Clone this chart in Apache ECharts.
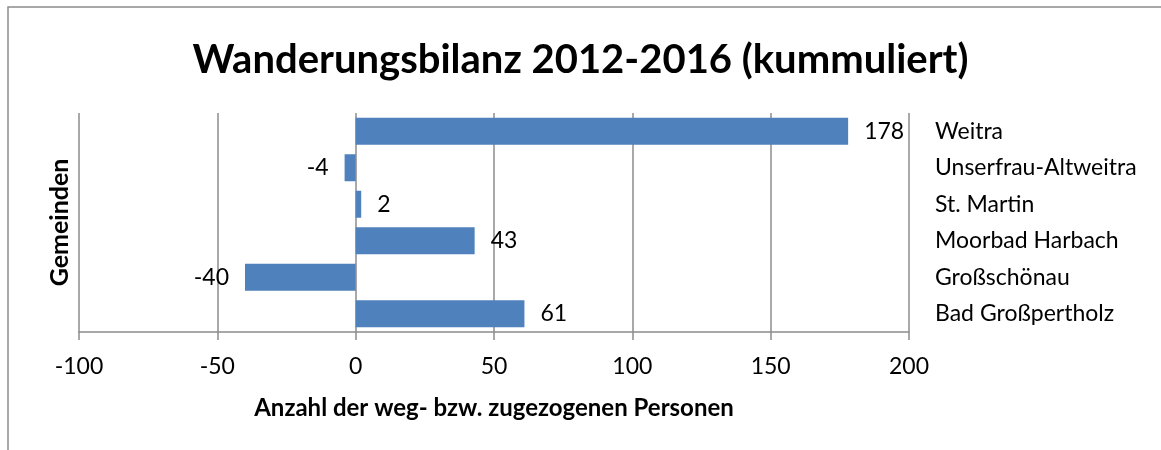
<!DOCTYPE html>
<html>
<head>
<meta charset="utf-8">
<script src="https://cdn.jsdelivr.net/npm/echarts@6/dist/echarts.min.js"></script>
<style>
    html, body { margin: 0; padding: 0; background: #fff; }
</style>
</head>
<body>
<div style="width:1161px;height:450px;" id="wanderung_con"></div>
<script>
    var gemeinden = ['Weitra', 'Unserfrau-Altweitra', 'St. Martin', 'Moorbad Harbach', 'Großschönau', 'Bad Großpertholz'];
    var saldo = [178, -4, 2, 43, -40, 61];
    var font = 'Lato, "Open Sans", sans-serif';

    var option = {
        animation: false,
        textStyle: { fontFamily: font },
        title: {
            text: 'Wanderungsbilanz 2012-2016 (kummuliert)',
            left: 'center',
            top: 35,
            textStyle: { fontFamily: font, fontSize: 40, fontWeight: 'bold', color: '#000' }
        },
        graphic: [{
            type: 'rect',
            shape: { x: 8, y: 7, width: 1200, height: 500 },
            style: { fill: 'none', stroke: '#8c8c8c', lineWidth: 1.5 }
        }],
        grid: { left: 79, right: 252, top: 113, bottom: 118 },
        xAxis: {
            type: 'value',
            min: -100,
            max: 200,
            interval: 50,
            name: 'Anzahl der weg- bzw. zugezogenen Personen',
            nameLocation: 'middle',
            nameGap: 64,
            nameTextStyle: { fontFamily: font, fontSize: 24, fontWeight: 'bold', color: '#000' },
            axisLine: { show: true, lineStyle: { color: '#8c8c8c', width: 1.5 } },
            axisTick: { show: true, length: 8, lineStyle: { color: '#8c8c8c', width: 1.5 } },
            splitLine: { show: true, lineStyle: { color: '#8c8c8c', width: 1.5 } },
            axisLabel: { fontFamily: font, fontSize: 23, color: '#000', margin: 23 }
        },
        yAxis: [
            {
                type: 'category',
                inverse: true,
                position: 'right',
                data: gemeinden,
                axisLine: { show: false },
                axisTick: { show: false },
                axisLabel: { fontFamily: font, fontSize: 23, color: '#000', margin: 26, align: 'left' }
            },
            {
                type: 'category',
                inverse: true,
                position: 'left',
                data: gemeinden,
                name: 'Gemeinden',
                nameLocation: 'middle',
                nameGap: 7,
                nameRotate: 90,
                nameTextStyle: { fontFamily: font, fontSize: 25, fontWeight: 'bold', color: '#000' },
                axisLine: { show: false },
                axisTick: { show: false },
                axisLabel: { show: false }
            }
        ],
        series: [{
            name: 'Wanderungsbilanz',
            type: 'bar',
            barCategoryGap: '26%',
            itemStyle: { color: '#4f81bd' },
            data: saldo.map(function (v) {
                return {
                    value: v,
                    label: { position: v < 0 ? 'left' : 'right' }
                };
            }),
            label: {
                show: true,
                distance: 16,
                fontFamily: font,
                fontSize: 23,
                color: '#000'
            }
        }]
    };

    var chart = echarts.init(document.getElementById('wanderung_con'));
    chart.setOption(option);
    window.addEventListener('resize', function () {
        chart.resize();
    });
</script>
</body>
</html>
